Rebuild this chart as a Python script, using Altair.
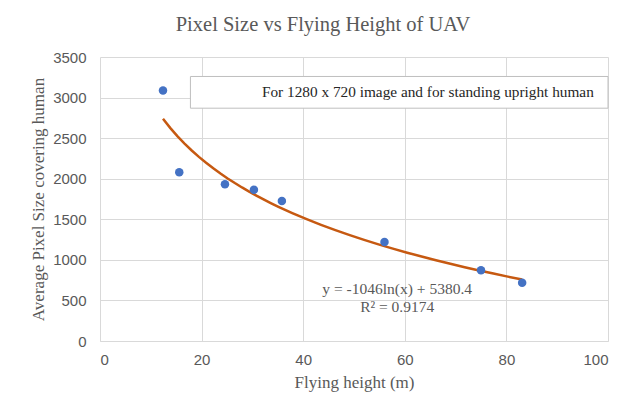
import altair as alt
import pandas as pd

heights = [12.4, 15.6, 24.6, 30.3, 35.8, 56.0, 75.0, 83.1]
pixels = [3087, 2081, 1933, 1864, 1724, 1219, 871, 719]

note_text = "For 1280 x 720 image and for standing upright human"
eq_lines = ["y = -1046ln(x) + 5380.4", "R\u00b2 = 0.9174"]

df = pd.DataFrame({"h": heights, "p": pixels})

GRAY = "#595959"
SERIF = "Liberation Serif"
SANS = "Liberation Sans"

xs = alt.Scale(domain=[0, 100], nice=False)
ys = alt.Scale(domain=[0, 3500], nice=False)

base = alt.Chart(df)

points = base.mark_circle(size=72, color="#4472C4", opacity=1).encode(
    x=alt.X("h:Q", scale=xs, title="Flying height (m)",
            axis=alt.Axis(values=[0, 20, 40, 60, 80, 100], format="d")),
    y=alt.Y("p:Q", scale=ys, title="Average Pixel Size covering human",
            axis=alt.Axis(values=[0, 500, 1000, 1500, 2000, 2500, 3000, 3500], format="d")),
)

trend = base.transform_regression("h", "p", method="log").mark_line(
    color="#C65911", strokeWidth=2.5
).encode(x=alt.X("h:Q", scale=xs), y=alt.Y("p:Q", scale=ys))

box_df = pd.DataFrame({"x1": [17.8], "x2": [100], "y1": [2869], "y2": [3260]})
box = alt.Chart(box_df).mark_rect(fill="white", stroke="#BFBFBF", strokeWidth=1).encode(
    x=alt.X("x1:Q", scale=xs), x2="x2:Q",
    y=alt.Y("y1:Q", scale=ys), y2="y2:Q",
)

note_df = pd.DataFrame({"x": [97.2], "y": [3063], "t": [note_text]})
note = alt.Chart(note_df).mark_text(
    align="right", baseline="middle", font=SERIF, fontSize=15.3, color="#262626"
).encode(x=alt.X("x:Q", scale=xs), y=alt.Y("y:Q", scale=ys), text="t:N")

eq_df = pd.DataFrame({"x": [58.5, 58.5], "y": [640, 419], "t": eq_lines})
eq = alt.Chart(eq_df).mark_text(
    align="center", baseline="middle", font=SERIF, fontSize=15.5, color=GRAY
).encode(x=alt.X("x:Q", scale=xs), y=alt.Y("y:Q", scale=ys), text="t:N")

chart = alt.layer(box, note, trend, points, eq).properties(
    width=508, height=284,
    background="white",
    title=alt.TitleParams("Pixel Size vs Flying Height of UAV", font=SERIF,
                          fontSize=20.5, fontWeight="normal", color=GRAY,
                          offset=15, dx=-31),
    autosize=alt.AutoSizeParams(type="none"),
    padding={"left": 100, "top": 57, "right": 26, "bottom": 67},
).configure_view(stroke=None).configure_axis(
    grid=True, gridColor="#D9D9D9", gridWidth=1,
    domain=False, ticks=False,
    labelFont=SANS, labelFontSize=15, labelColor=GRAY,
    titleFont=SERIF, titleFontSize=17, titleColor=GRAY, titleFontWeight="normal",
).configure_axisX(domain=True, domainColor="#D9D9D9", labelPadding=11,
                  titlePadding=7).configure_axisY(labelPadding=14, titlePadding=5)

chart.save("out.html", embed_options={"renderer": "svg", "actions": False})
